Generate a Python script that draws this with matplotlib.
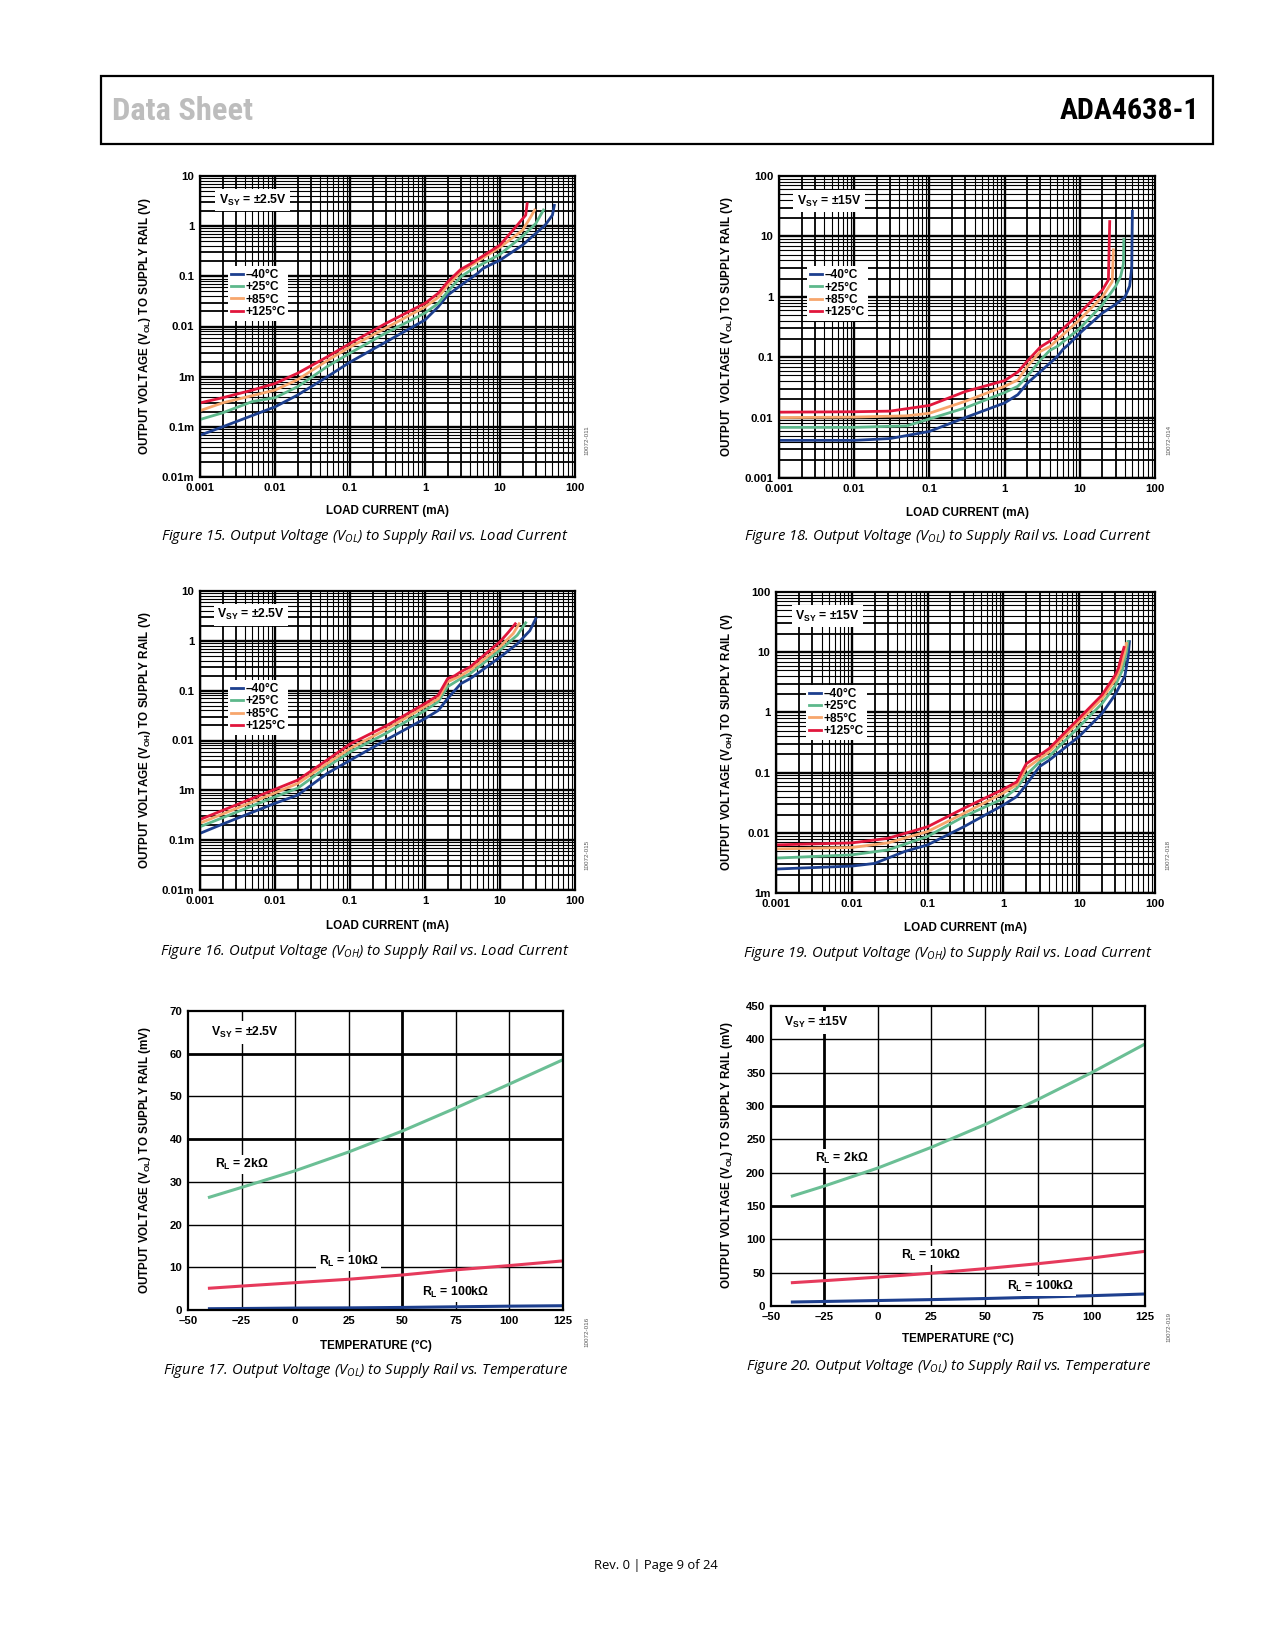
import matplotlib
matplotlib.use("Agg")
import matplotlib.pyplot as plt
from matplotlib.patches import Rectangle

plt.rcParams['font.family'] = ['Liberation Sans', 'DejaVu Sans']
plt.rcParams['mathtext.default'] = 'regular'

W, H = 1275, 1650

# ---------------- data ----------------
temp_labels = ["\u201340\u00b0C", "+25\u00b0C", "+85\u00b0C", "+125\u00b0C"]
temp_colors = ["#1d3f8e", "#5db88b", "#f7a66c", "#e1163c"]

# Figure 15: VOL vs load current, VSY = +/-2.5V  (mA, V)
f15_i_m40 = [0.001, 0.002, 0.01, 0.02, 0.05, 0.1, 0.3, 1, 1.5, 2, 3, 5, 6, 10, 20, 40, 50, 53]
f15_v_m40 = [6.8e-5, 1e-4, 2.5e-4, 4.3e-4, 1e-3, 1.95e-3, 4.9e-3, 0.0135, 0.0246, 0.042, 0.066, 0.114, 0.145, 0.21, 0.42, 1.05, 1.66, 2.6]
f15_i_25 = [0.001, 0.002, 0.005, 0.01, 0.02, 0.05, 0.1, 0.3, 1, 1.5, 2, 3, 4, 10, 20, 30, 38]
f15_v_25 = [1.4e-4, 1.9e-4, 3.2e-4, 3.8e-4, 6.3e-4, 1.6e-3, 2.95e-3, 7.4e-3, 0.0186, 0.029, 0.049, 0.098, 0.13, 0.275, 0.63, 1.13, 2.1]
f15_i_85 = [0.001, 0.002, 0.01, 0.02, 0.05, 0.1, 0.3, 1, 1.5, 2, 3, 4, 10, 20, 25, 29]
f15_v_85 = [2.1e-4, 3e-4, 5.4e-4, 8.7e-4, 2.1e-3, 3.9e-3, 9.3e-3, 0.0245, 0.038, 0.066, 0.123, 0.16, 0.38, 0.83, 1.43, 2.1]
f15_i_125 = [0.001, 0.002, 0.005, 0.01, 0.02, 0.05, 0.1, 0.3, 1, 1.5, 2, 3, 4, 10, 17, 22, 23]
f15_v_125 = [3e-4, 3.8e-4, 5.4e-4, 7.3e-4, 1.17e-3, 2.5e-3, 4.6e-3, 0.0115, 0.029, 0.046, 0.077, 0.138, 0.175, 0.42, 1.05, 1.66, 2.8]

# Figure 18: VOL vs load current, VSY = +/-15V
f18_i_m40 = [0.001, 0.01, 0.03, 0.1, 0.3, 1, 1.5, 2, 3, 5, 6, 7, 10, 20, 30, 40, 46, 49, 50]
f18_v_m40 = [4.2e-3, 4.2e-3, 4.5e-3, 5.9e-3, 0.01, 0.0175, 0.024, 0.037, 0.058, 0.102, 0.136, 0.16, 0.25, 0.54, 0.75, 1.0, 1.5, 3.0, 26]
f18_i_25 = [0.001, 0.01, 0.05, 0.1, 0.3, 1, 1.5, 2, 3, 4, 5, 10, 20, 30, 35, 38, 38.5]
f18_v_25 = [6.9e-3, 6.9e-3, 7.3e-3, 9.5e-3, 0.0145, 0.026, 0.033, 0.048, 0.09, 0.13, 0.15, 0.30, 0.74, 1.5, 2.2, 3.5, 9.0]
f18_i_85 = [0.001, 0.01, 0.05, 0.1, 0.3, 1, 1.5, 2, 3, 4, 10, 20, 27, 28]
f18_v_85 = [0.01, 0.0102, 0.0107, 0.0118, 0.0186, 0.033, 0.042, 0.07, 0.125, 0.15, 0.42, 1.0, 1.78, 6.0]
f18_i_125 = [0.001, 0.01, 0.03, 0.1, 0.3, 1, 1.5, 2, 3, 4, 10, 20, 24, 25]
f18_v_125 = [0.0123, 0.0125, 0.0128, 0.0159, 0.027, 0.041, 0.057, 0.086, 0.148, 0.185, 0.54, 1.3, 1.9, 17.6]

# Figure 16: VOH vs load current, VSY = +/-2.5V
f16_i_m40 = [0.001, 0.002, 0.01, 0.02, 0.05, 0.1, 0.3, 1, 1.5, 2, 3, 4, 5, 10, 17, 25, 30]
f16_v_m40 = [1.37e-4, 2.1e-4, 5.5e-4, 8e-4, 2.2e-3, 4e-3, 0.0102, 0.0275, 0.04, 0.069, 0.138, 0.174, 0.22, 0.47, 0.87, 1.6, 2.8]
f16_i_25 = [0.001, 0.01, 0.02, 0.05, 0.1, 0.3, 1, 1.5, 2, 3, 4, 10, 17, 22]
f16_v_25 = [1.86e-4, 7.4e-4, 1.1e-3, 3e-3, 5.9e-3, 0.0138, 0.04, 0.06, 0.12, 0.175, 0.22, 0.65, 1.3, 2.3]
f16_i_85 = [0.001, 0.01, 0.02, 0.05, 0.1, 0.3, 1, 1.5, 2, 3, 4, 10, 15, 18]
f16_v_85 = [2.2e-4, 8.9e-4, 1.37e-3, 3.5e-3, 6.9e-3, 0.0166, 0.048, 0.069, 0.15, 0.2, 0.26, 0.76, 1.4, 2.2]
f16_i_125 = [0.001, 0.01, 0.02, 0.05, 0.1, 0.3, 1, 1.5, 2, 2.5, 3, 4, 10, 13, 16]
f16_v_125 = [2.6e-4, 1.05e-3, 1.6e-3, 4.1e-3, 8.5e-3, 0.0195, 0.055, 0.081, 0.174, 0.2, 0.24, 0.3, 0.96, 1.5, 2.2]

# Figure 19: VOH vs load current, VSY = +/-15V
f19_i_m40 = [0.001, 0.01, 0.02, 0.05, 0.1, 0.3, 1, 1.5, 2, 3, 4, 10, 20, 30, 40, 44, 46]
f19_v_m40 = [2.5e-3, 2.8e-3, 3.1e-3, 4.9e-3, 6.3e-3, 0.0126, 0.029, 0.04, 0.063, 0.126, 0.16, 0.4, 0.96, 2.0, 4.0, 8.0, 15]
f19_i_25 = [0.001, 0.01, 0.03, 0.1, 0.3, 1, 1.5, 2, 3, 4, 10, 20, 30, 37, 42, 44]
f19_v_25 = [3.8e-3, 4.3e-3, 5.2e-3, 8.7e-3, 0.0186, 0.037, 0.055, 0.091, 0.15, 0.185, 0.58, 1.4, 2.8, 5.0, 10, 15]
f19_i_85 = [0.001, 0.01, 0.03, 0.1, 0.3, 1, 1.5, 2, 3, 4, 10, 20, 30, 35, 40, 42]
f19_v_85 = [5.4e-3, 5.7e-3, 6.8e-3, 0.0105, 0.021, 0.046, 0.063, 0.118, 0.17, 0.22, 0.71, 1.7, 3.5, 5.5, 10, 14]
f19_i_125 = [0.001, 0.01, 0.03, 0.1, 0.3, 1, 1.5, 2, 2.5, 3, 4, 10, 20, 30, 33, 36, 39]
f19_v_125 = [6.3e-3, 6.8e-3, 8.1e-3, 0.0126, 0.0255, 0.053, 0.07, 0.14, 0.17, 0.195, 0.25, 0.8, 1.95, 4.2, 5.5, 8.5, 12]

# Figures 17 and 20: VOL vs temperature (degC, mV)
temp_c = [-40, -25, 0, 25, 50, 75, 100, 125]
f17_rl2k = [26.4, 28.7, 32.6, 37.0, 41.9, 47.3, 52.9, 58.6]
f17_rl10k = [5.1, 5.6, 6.4, 7.2, 8.2, 9.4, 10.4, 11.5]
f17_rl100k = [0.3, 0.35, 0.45, 0.5, 0.6, 0.75, 0.9, 1.0]
f20_rl2k = [165, 180, 207, 238, 272, 310, 350, 393]
f20_rl10k = [35, 38, 43.3, 49.2, 56, 63.5, 72, 82]
f20_rl100k = [6, 6.8, 8.2, 9.6, 11.2, 13.2, 15.5, 18]

log_xticks = [0.001, 0.01, 0.1, 1, 10, 100]
log_xlabels = ["0.001", "0.01", "0.1", "1", "10", "100"]
low_yticks = [1e-5, 1e-4, 1e-3, 0.01, 0.1, 1, 10]
low_ylabels = ["0.01m", "0.1m", "1m", "0.01", "0.1", "1", "10"]
hi18_yticks = [0.001, 0.01, 0.1, 1, 10, 100]
hi18_ylabels = ["0.001", "0.01", "0.1", "1", "10", "100"]
hi19_yticks = [0.001, 0.01, 0.1, 1, 10, 100]
hi19_ylabels = ["1m", "0.01", "0.1", "1", "10", "100"]

# ---------------- layout helpers ----------------
fig = plt.figure(figsize=(W / 100, H / 100), dpi=100)


def box(l, r, t, b):
    return [l / W, 1 - b / H, (r - l) / W, (b - t) / H]


def ftext(x, y, s, **kw):
    return fig.text(x / W, 1 - y / H, s, **kw)


TICK_FS = 8.2
LAB_FS = 8.4
WHITE = dict(facecolor="white", edgecolor="none", pad=1.5)
HEAD_FONT = ["Roboto Condensed", "Liberation Sans Narrow", "Roboto", "DejaVu Sans"]


def log_grid(ax, xdec, ydec):
    for e in range(*xdec):
        for k in range(1, 10):
            lw = 1.7 if k == 1 else (1.3 if k in (2, 3) else 0.8)
            ax.axvline(k * 10.0 ** e, color="k", lw=lw, zorder=1)
    for e in range(*ydec):
        for k in range(1, 10):
            lw = 1.7 if k == 1 else (1.3 if k in (2, 3) else 0.8)
            ax.axhline(k * 10.0 ** e, color="k", lw=lw, zorder=1)


def style_ticks(ax):
    ax.tick_params(length=0, labelsize=TICK_FS, pad=4)
    for lab in ax.get_xticklabels() + ax.get_yticklabels():
        lab.set_fontweight("bold")
    for sp in ax.spines.values():
        sp.set_linewidth(1.6)
        sp.set_zorder(4)


def log_panel(rect, series, ylim, yticks, ylabels, ydec, vsy, leg_xy, vsy_xy):
    ax = fig.add_axes(rect)
    ax.set_xscale("log")
    ax.set_yscale("log")
    ax.set_xlim(0.001, 100)
    ax.set_ylim(*ylim)
    log_grid(ax, (-3, 2), ydec)
    for (xi, yi), col, lab in zip(series, temp_colors, temp_labels):
        ax.plot(xi, yi, color=col, lw=2.0, label=lab, zorder=3,
                solid_joinstyle="round")
    ax.set_xticks(log_xticks, log_xlabels)
    ax.set_yticks(yticks, ylabels)
    ax.minorticks_off()
    style_ticks(ax)
    leg = ax.legend(loc="center", bbox_to_anchor=leg_xy, fontsize=8.6,
                    frameon=True, fancybox=False, framealpha=1,
                    edgecolor="none", borderpad=0.25, handlelength=1.0,
                    handletextpad=0.2, labelspacing=0.02, borderaxespad=0)
    leg.set_zorder(6)
    for t in leg.get_texts():
        t.set_fontweight("bold")
    ax.text(vsy_xy[0], vsy_xy[1], "$V_{SY}$ = " + vsy, transform=ax.transAxes,
            ha="center", va="center", fontsize=8.8, fontweight="bold",
            bbox=dict(facecolor="white", edgecolor="none", pad=2.5), zorder=6)
    return ax


# ---------------- header / footer ----------------
fig.add_artist(Rectangle((101 / W, 1 - 144 / H), (1213 - 101) / W, (144 - 76) / H,
                         transform=fig.transFigure, fill=False, lw=1.6,
                         edgecolor="black"))
ftext(112, 111, "Data Sheet", ha="left", va="center", fontsize=23.4,
      color="#bdbdbd", fontweight="bold", family=HEAD_FONT)
ftext(1199, 111, "ADA4638-1", ha="right", va="center", fontsize=21.6,
      color="black", fontweight="bold", family=HEAD_FONT)
ftext(656, 1566, "Rev. 0 | Page 9 of 24", ha="center", va="center",
      fontsize=9.4, family=["Open Sans", "DejaVu Sans"])

CAP = dict(ha="center", va="center", fontsize=10.7, style="italic",
           family=["Open Sans", "DejaVu Sans"])

# ---------------- Figure 15 ----------------
log_panel(box(200, 575, 176, 477),
          [(f15_i_m40, f15_v_m40), (f15_i_25, f15_v_25),
           (f15_i_85, f15_v_85), (f15_i_125, f15_v_125)],
          (1e-5, 10), low_yticks, low_ylabels, (-5, 1), "\u00b12.5V",
          (0.155, 0.61), (0.14, 0.92))
ftext(387, 511, "LOAD CURRENT (mA)", ha="center", va="center",
      fontsize=LAB_FS, fontweight="bold")
ftext(145, 326, "OUTPUT VOLTAGE ($V_{OL}$) TO SUPPLY RAIL (V)", ha="center",
      va="center", rotation=90, fontsize=LAB_FS, fontweight="bold")
ftext(587, 440, "10072-011", ha="center", va="center", rotation=90,
      fontsize=4.5, color="#555555")
ftext(365, 536, "Figure 15. Output Voltage ($V_{OL}$) to Supply Rail vs. Load Current", **CAP)

# ---------------- Figure 18 ----------------
log_panel(box(779, 1155, 176, 478),
          [(f18_i_m40, f18_v_m40), (f18_i_25, f18_v_25),
           (f18_i_85, f18_v_85), (f18_i_125, f18_v_125)],
          (0.001, 100), hi18_yticks, hi18_ylabels, (-3, 2), "\u00b115V",
          (0.155, 0.61), (0.133, 0.917))
ftext(967, 513, "LOAD CURRENT (mA)", ha="center", va="center",
      fontsize=LAB_FS, fontweight="bold")
ftext(727, 327, "OUTPUT  VOLTAGE ($V_{OL}$) TO SUPPLY RAIL (V)", ha="center",
      va="center", rotation=90, fontsize=LAB_FS, fontweight="bold")
ftext(1169, 440, "10072-014", ha="center", va="center", rotation=90,
      fontsize=4.5, color="#555555")
ftext(948, 537, "Figure 18. Output Voltage ($V_{OL}$) to Supply Rail vs. Load Current", **CAP)

# ---------------- Figure 16 ----------------
log_panel(box(200, 575, 591, 890),
          [(f16_i_m40, f16_v_m40), (f16_i_25, f16_v_25),
           (f16_i_85, f16_v_85), (f16_i_125, f16_v_125)],
          (1e-5, 10), low_yticks, low_ylabels, (-5, 1), "\u00b12.5V",
          (0.155, 0.61), (0.136, 0.92))
ftext(387, 926, "LOAD CURRENT (mA)", ha="center", va="center",
      fontsize=LAB_FS, fontweight="bold")
ftext(145, 740, "OUTPUT VOLTAGE ($V_{OH}$) TO SUPPLY RAIL (V)", ha="center",
      va="center", rotation=90, fontsize=LAB_FS, fontweight="bold")
ftext(587, 855, "10072-015", ha="center", va="center", rotation=90,
      fontsize=4.5, color="#555555")
ftext(365, 951, "Figure 16. Output Voltage ($V_{OH}$) to Supply Rail vs. Load Current", **CAP)

# ---------------- Figure 19 ----------------
log_panel(box(776, 1155, 592, 893),
          [(f19_i_m40, f19_v_m40), (f19_i_25, f19_v_25),
           (f19_i_85, f19_v_85), (f19_i_125, f19_v_125)],
          (0.001, 100), hi19_yticks, hi19_ylabels, (-3, 2), "\u00b115V",
          (0.16, 0.6), (0.135, 0.92))
ftext(965, 928, "LOAD CURRENT (mA)", ha="center", va="center",
      fontsize=LAB_FS, fontweight="bold")
ftext(727, 742, "OUTPUT VOLTAGE ($V_{OH}$) TO SUPPLY RAIL (V)", ha="center",
      va="center", rotation=90, fontsize=LAB_FS, fontweight="bold")
ftext(1168, 855, "10072-018", ha="center", va="center", rotation=90,
      fontsize=4.5, color="#555555")
ftext(948, 953, "Figure 19. Output Voltage ($V_{OH}$) to Supply Rail vs. Load Current", **CAP)


# ---------------- temperature panels ----------------
def temp_panel(rect, ymax, ystep, thick_y, thick_x, curves, labels, vsy, vsy_xy):
    ax = fig.add_axes(rect)
    ax.set_xlim(-50, 125)
    ax.set_ylim(0, ymax)
    xt = list(range(-50, 126, 25))
    yt = list(range(0, ymax + 1, ystep))
    for v in xt[1:-1]:
        ax.axvline(v, color="k", lw=2.0 if v == thick_x else 1.0, zorder=1)
    for v in yt[1:-1]:
        ax.axhline(v, color="k", lw=2.0 if v in thick_y else 1.0, zorder=1)
    for yv, col in curves:
        ax.plot(temp_c, yv, color=col, lw=2.2, zorder=3)
    ax.set_xticks(xt, [str(v).replace("-", "\u2013") for v in xt])
    ax.set_yticks(yt, [str(v) for v in yt])
    style_ticks(ax)
    for (x, y, s) in labels:
        ax.text(x, y, s, ha="center", va="center", fontsize=8.8,
                fontweight="bold", bbox=WHITE, zorder=5)
    ax.text(vsy_xy[0], vsy_xy[1], "$V_{SY}$ = " + vsy, ha="center",
            va="center", fontsize=8.8, fontweight="bold",
            bbox=dict(facecolor="white", edgecolor="none", pad=3), zorder=5)
    return ax


# ---------------- Figure 17 ----------------
temp_panel(box(188, 563, 1011, 1310), 70, 10, (40, 60), 50,
           [(f17_rl100k, "#1d3f8e"), (f17_rl10k, "#e63a5c"), (f17_rl2k, "#6bbf95")],
           [(-25, 34, "$R_L$ = 2k\u03a9"), (25, 11.3, "$R_L$ = 10k\u03a9"),
            (75, 4.2, "$R_L$ = 100k\u03a9")],
           "\u00b12.5V", (-23.5, 65))
ftext(376, 1346, "TEMPERATURE (\u00b0C)", ha="center", va="center",
      fontsize=LAB_FS, fontweight="bold")
ftext(145, 1160, "OUTPUT VOLTAGE ($V_{OL}$) TO SUPPLY RAIL (mV)", ha="center",
      va="center", rotation=90, fontsize=LAB_FS, fontweight="bold")
ftext(587, 1332, "10072-016", ha="center", va="center", rotation=90,
      fontsize=4.5, color="#555555")
ftext(365, 1370, "Figure 17. Output Voltage ($V_{OL}$) to Supply Rail vs. Temperature", **CAP)

# ---------------- Figure 20 ----------------
temp_panel(box(771, 1145, 1006, 1306), 450, 50, (150, 300), -25,
           [(f20_rl100k, "#1d3f8e"), (f20_rl10k, "#e63a5c"), (f20_rl2k, "#6bbf95")],
           [(-17, 221, "$R_L$ = 2k\u03a9"), (25, 76, "$R_L$ = 10k\u03a9"),
            (76, 30, "$R_L$ = 100k\u03a9")],
           "\u00b115V", (-29, 425))
ftext(958, 1339, "TEMPERATURE (\u00b0C)", ha="center", va="center",
      fontsize=LAB_FS, fontweight="bold")
ftext(727, 1155, "OUTPUT VOLTAGE ($V_{OL}$) TO SUPPLY RAIL (mV)", ha="center",
      va="center", rotation=90, fontsize=LAB_FS, fontweight="bold")
ftext(1169, 1327, "10072-019", ha="center", va="center", rotation=90,
      fontsize=4.5, color="#555555")
ftext(948, 1366, "Figure 20. Output Voltage ($V_{OL}$) to Supply Rail vs. Temperature", **CAP)

fig.savefig("out.png", dpi=100)
